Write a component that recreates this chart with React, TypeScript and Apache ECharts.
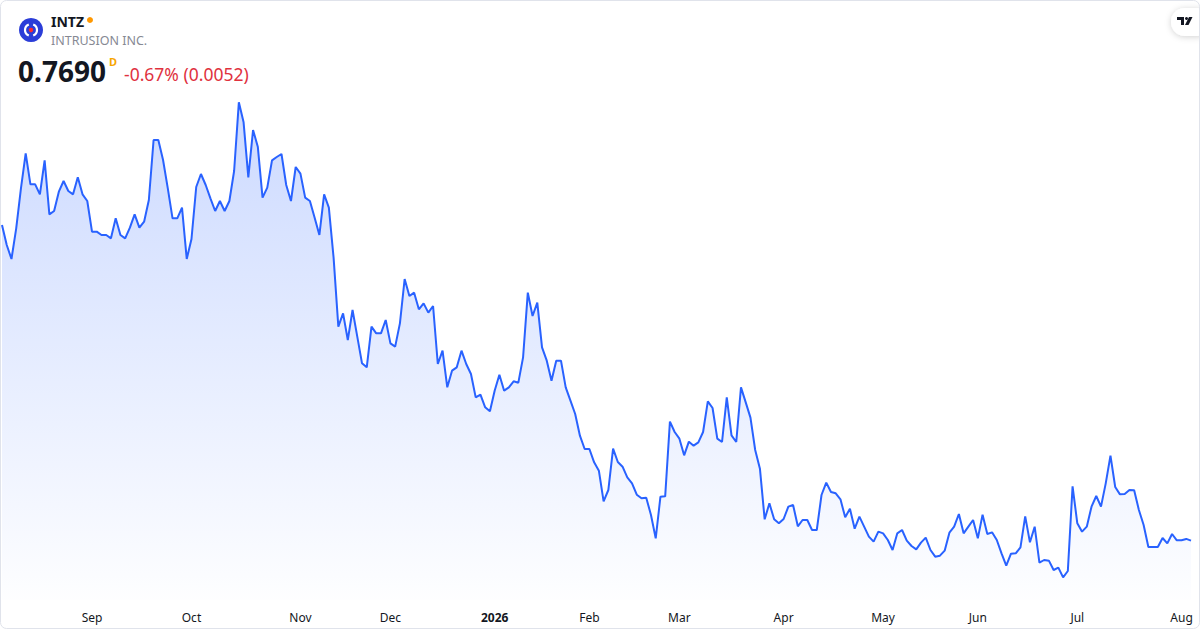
import React, { useEffect, useRef } from "react";
import * as echarts from "echarts";

// ---- Data ----
const START_DATE = "2025-08-05";
const HOLIDAYS = [
  "2025-09-01", "2025-11-27", "2025-12-25", "2026-01-01", "2026-01-19", "2026-02-16",
  "2026-04-03", "2026-05-25", "2026-06-19", "2026-07-03",
];
const MONTH_NAMES = ["Jan", "Feb", "Mar", "Apr", "May", "Jun", "Jul", "Aug", "Sep", "Oct", "Nov", "Dec"];

const closes = [
  1.716, 1.656, 1.614, 1.706, 1.826, 1.931, 1.838, 1.838, 1.808, 1.910,
  1.748, 1.758, 1.816, 1.848, 1.818, 1.808, 1.859, 1.808, 1.788, 1.696,
  1.696, 1.686, 1.686, 1.676, 1.736, 1.686, 1.676, 1.708, 1.748, 1.708,
  1.726, 1.791, 1.971, 1.971, 1.911, 1.826, 1.736, 1.736, 1.768, 1.614,
  1.674, 1.830, 1.869, 1.836, 1.796, 1.758, 1.788, 1.758, 1.788, 1.878,
  2.084, 2.024, 1.859, 2.001, 1.951, 1.798, 1.828, 1.910, 1.920, 1.929,
  1.836, 1.788, 1.890, 1.870, 1.798, 1.788, 1.738, 1.686, 1.808, 1.768,
  1.618, 1.411, 1.451, 1.371, 1.461, 1.381, 1.301, 1.289, 1.411, 1.391,
  1.391, 1.431, 1.361, 1.351, 1.421, 1.554, 1.503, 1.513, 1.463, 1.481,
  1.453, 1.473, 1.299, 1.339, 1.229, 1.279, 1.289, 1.339, 1.299, 1.269,
  1.199, 1.207, 1.169, 1.157, 1.219, 1.267, 1.219, 1.229, 1.247, 1.243,
  1.319, 1.513, 1.443, 1.483, 1.349, 1.309, 1.249, 1.309, 1.309, 1.229,
  1.189, 1.149, 1.084, 1.044, 1.044, 1.004, 0.979, 0.887, 0.921, 1.045,
  1.005, 0.991, 0.959, 0.941, 0.907, 0.896, 0.898, 0.846, 0.776, 0.901,
  0.902, 1.126, 1.095, 1.075, 1.025, 1.066, 1.054, 1.064, 1.095, 1.187,
  1.167, 1.075, 1.065, 1.199, 1.085, 1.065, 1.229, 1.184, 1.138, 1.041,
  0.985, 0.833, 0.881, 0.833, 0.821, 0.834, 0.871, 0.876, 0.812, 0.831,
  0.831, 0.801, 0.801, 0.906, 0.943, 0.915, 0.911, 0.893, 0.839, 0.865,
  0.805, 0.841, 0.811, 0.781, 0.766, 0.796, 0.791, 0.771, 0.741, 0.791,
  0.801, 0.769, 0.753, 0.743, 0.763, 0.778, 0.741, 0.721, 0.724, 0.739,
  0.793, 0.811, 0.849, 0.791, 0.811, 0.831, 0.776, 0.847, 0.789, 0.794,
  0.771, 0.731, 0.694, 0.730, 0.731, 0.749, 0.842, 0.764, 0.811, 0.703,
  0.711, 0.709, 0.681, 0.688, 0.659, 0.678, 0.932, 0.821, 0.796, 0.811,
  0.871, 0.903, 0.871, 0.941, 1.024, 0.930, 0.908, 0.909, 0.921, 0.920,
  0.861, 0.816, 0.750, 0.750, 0.750, 0.777, 0.761, 0.789, 0.770, 0.770,
  0.7742, 0.7690,
];

const SYMBOL = "INTZ";
const COMPANY = "INTRUSION INC.";
const LAST_PRICE = "0.7690";
const CHANGE_TEXT = "-0.67% (0.0052)";
const Y_MIN = 0.591;
const Y_MAX = 2.121;

function buildTradingDays(start: string, count: number, holidays: string[]): string[] {
  const out: string[] = [];
  const d = new Date(start + "T00:00:00Z");
  while (out.length < count) {
    const day = d.getUTCDay();
    const iso = d.toISOString().slice(0, 10);
    if (day !== 0 && day !== 6 && holidays.indexOf(iso) < 0) out.push(iso);
    d.setUTCDate(d.getUTCDate() + 1);
  }
  return out;
}

const dates = buildTradingDays(START_DATE, closes.length, HOLIDAYS);
const monthStartIdx: number[] = dates
  .map((s, i) => (i > 0 && s.slice(0, 7) !== dates[i - 1].slice(0, 7) ? i : -1))
  .filter((i) => i >= 0);

const FONT = "'Noto Sans', 'Open Sans', sans-serif";

export default function App() {
  const ref = useRef<HTMLDivElement>(null);

  useEffect(() => {
    if (!ref.current) return;
    const chart = echarts.init(ref.current, undefined, { renderer: "svg" });
    const monthSet = new Set(monthStartIdx);

    chart.setOption({
      animation: false,
      backgroundColor: "#ffffff",
      grid: { left: 2, right: 9, top: 90, bottom: 30, containLabel: false, outerBoundsMode: "none" },
      xAxis: {
        type: "category",
        data: dates,
        boundaryGap: false,
        axisLine: { show: false },
        axisTick: { show: false },
        splitLine: { show: false },
        axisLabel: {
          interval: (index: number) => monthSet.has(index),
          margin: 11,
          color: "#131722",
          fontSize: 12,
          fontFamily: FONT,
          formatter: (value: string) => {
            const m = parseInt(value.slice(5, 7), 10) - 1;
            if (m === 0) return "{b|" + value.slice(0, 4) + "}";
            return MONTH_NAMES[m];
          },
          rich: {
            b: { fontWeight: "bold", fontSize: 12, color: "#131722", fontFamily: FONT },
          },
        },
      },
      yAxis: {
        type: "value",
        show: false,
        min: Y_MIN,
        max: Y_MAX,
        splitLine: { show: false },
      },
      series: [
        {
          type: "line",
          data: closes,
          showSymbol: false,
          symbol: "none",
          lineStyle: { color: "#2962ff", width: 2 },
          areaStyle: {
            color: new echarts.graphic.LinearGradient(0, 0, 0, 1, [
              { offset: 0, color: "rgba(41,98,255,0.34)" },
              { offset: 1, color: "rgba(41,98,255,0.01)" },
            ]),
          },
        },
      ],
      graphic: [
        {
          type: "rect",
          silent: true,
          shape: { x: 0.5, y: 0.5, width: 1199, height: 628, r: 6 },
          style: { fill: "none", stroke: "#e0e3eb", lineWidth: 1 },
          z: 100,
        },
        // logo
        { type: "circle", shape: { cx: 31, cy: 30, r: 12 }, style: { fill: "#2b3dd8" } },
        { type: "arc", shape: { cx: 31, cy: 30, r: 6, startAngle: Math.PI * 0.62, endAngle: Math.PI * 1.38 }, style: { stroke: "#ffffff", lineWidth: 2.2, fill: "none" } },
        { type: "arc", shape: { cx: 31, cy: 30, r: 6, startAngle: -Math.PI * 0.38, endAngle: Math.PI * 0.38 }, style: { stroke: "#ffffff", lineWidth: 2.2, fill: "none" } },
        { type: "circle", shape: { cx: 31, cy: 30, r: 2.2 }, style: { fill: "#ff2b2b" } },
        // symbol
        {
          type: "text", x: 51, y: 21,
          style: { text: SYMBOL, fontSize: 14, fontWeight: "bold", fill: "#131722", fontFamily: FONT, verticalAlign: "middle" },
        },
        { type: "circle", shape: { cx: 90, cy: 20, r: 3 }, style: { fill: "#ff9800" } },
        {
          type: "text", x: 51, y: 40,
          style: { text: COMPANY, fontSize: 12.5, fill: "#868993", fontFamily: FONT, verticalAlign: "middle" },
        },
        {
          type: "text", x: 18, y: 71,
          style: { text: LAST_PRICE, fontSize: 28, fontWeight: "bold", fill: "#131722", fontFamily: FONT, verticalAlign: "middle" },
        },
        {
          type: "text", x: 109, y: 61,
          style: { text: "D", fontSize: 11, fontWeight: "bold", fill: "#f7a600", fontFamily: FONT, verticalAlign: "middle" },
        },
        {
          type: "text", x: 124, y: 74,
          style: { text: CHANGE_TEXT, fontSize: 17.5, fill: "#e0313e", fontFamily: FONT, verticalAlign: "middle" },
        },
        // TradingView badge
        {
          type: "rect",
          shape: { x: 1171, y: 8, width: 40, height: 28, r: 14 },
          style: { fill: "#ffffff", shadowBlur: 6, shadowColor: "rgba(0,0,0,0.18)", shadowOffsetY: 1 },
        },
        {
          type: "polygon",
          shape: { points: [[1177, 17], [1184, 17], [1184, 25], [1181, 25], [1181, 20], [1177, 20]] },
          style: { fill: "#131722" },
        },
        { type: "circle", shape: { cx: 1186.5, cy: 18.5, r: 1.5 }, style: { fill: "#131722" } },
        {
          type: "polygon",
          shape: { points: [[1189, 17], [1192.5, 17], [1188.5, 25], [1185, 25]] },
          style: { fill: "#131722" },
        },
      ],
    });

    return () => chart.dispose();
  }, []);

  return (
    <div
      ref={ref}
      style={{ position: "fixed", left: 0, top: 0, width: 1200, height: 630, background: "#fff" }}
    />
  );
}
